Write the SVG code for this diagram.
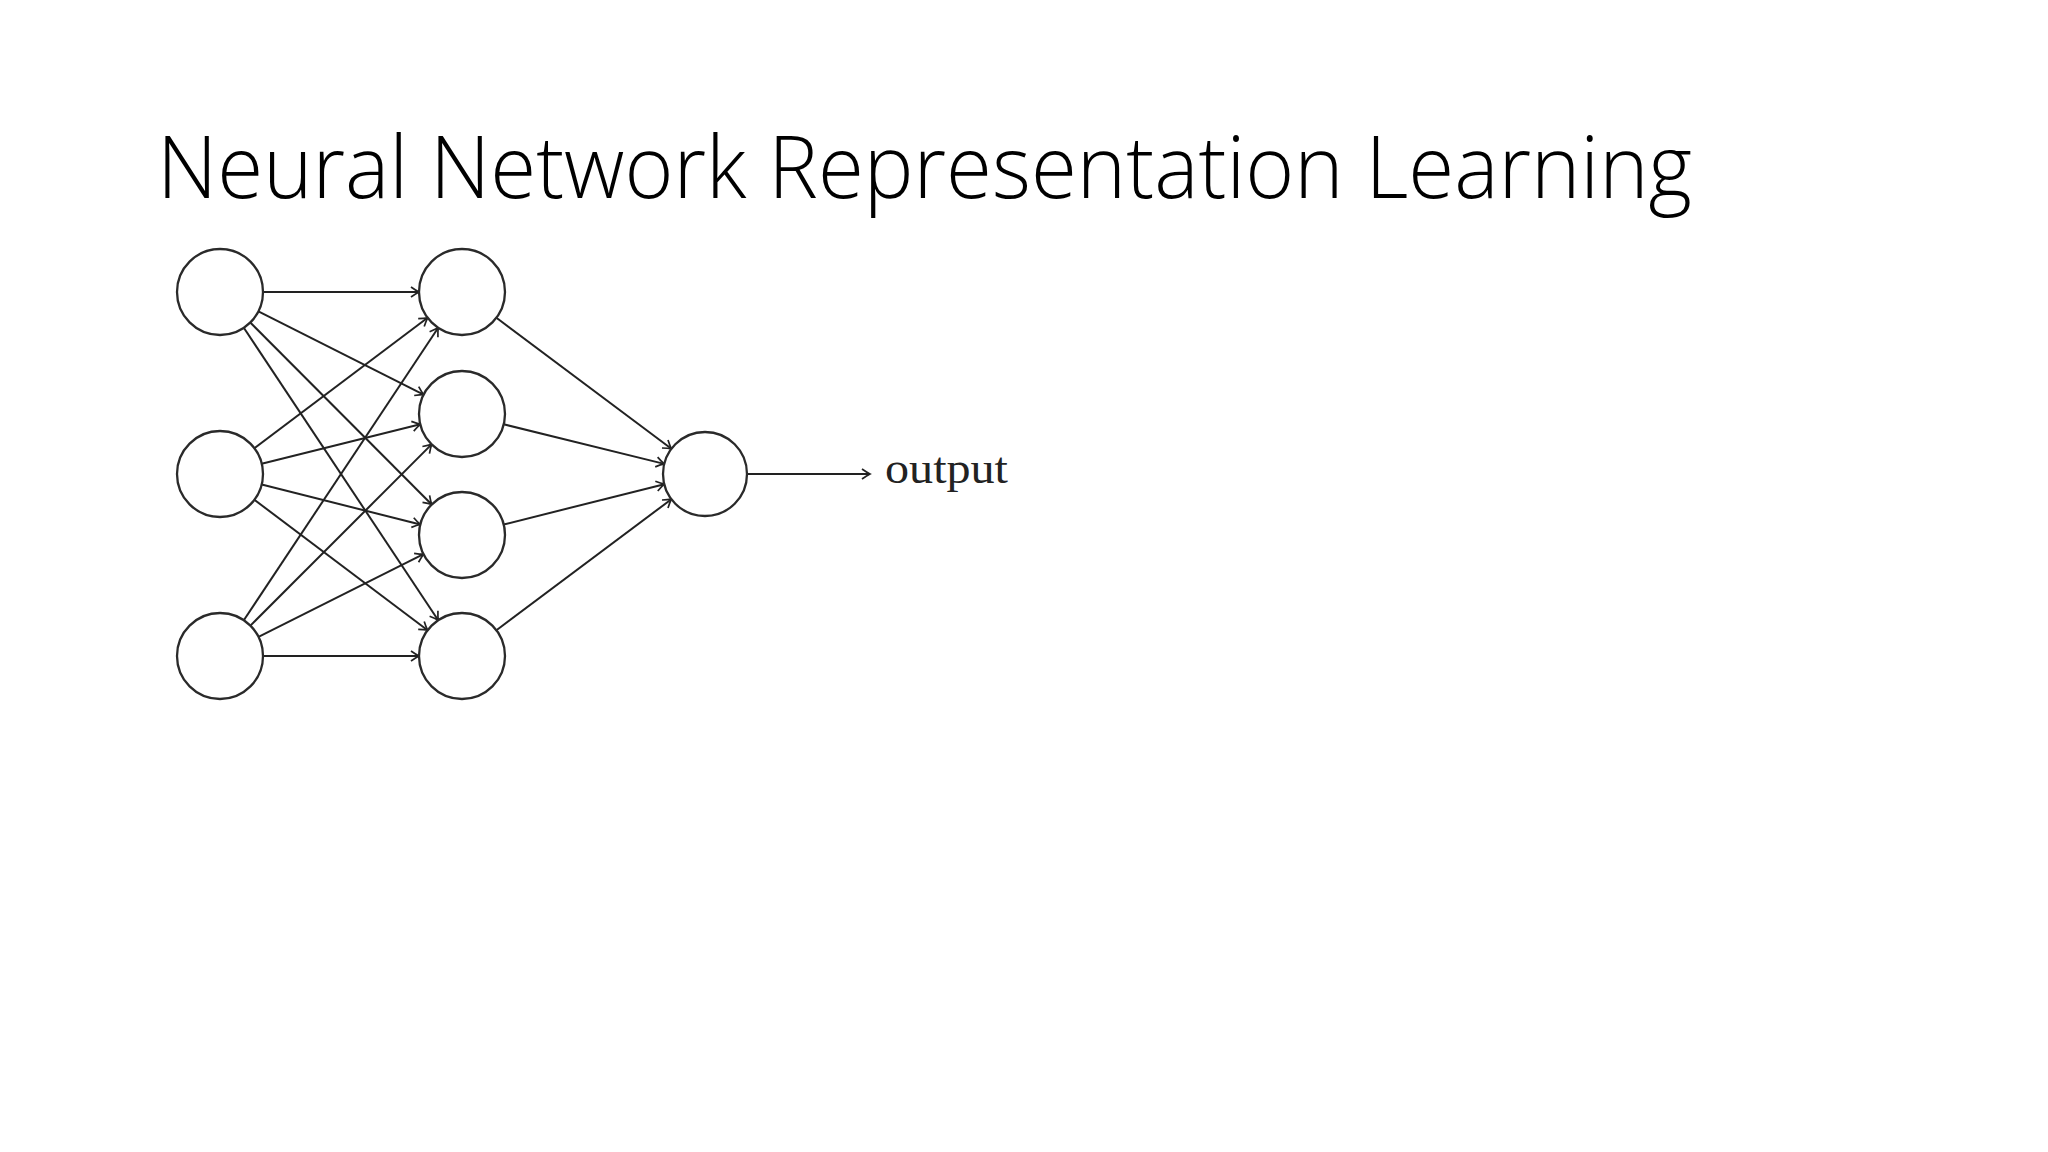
<svg xmlns="http://www.w3.org/2000/svg" width="2048" height="1152" viewBox="0 0 2048 1152">
<style>
.node{fill:#fff;stroke:#2a2a2a;stroke-width:2.3}
.edge{fill:none;stroke:#222;stroke-width:2;marker-end:url(#arr)}
.title{font-family:"Open Sans","Liberation Sans",sans-serif;font-weight:300;font-size:86px;fill:#000}
.lbl{font-family:"Liberation Serif","DejaVu Serif",serif;font-size:44px;fill:#222}
</style>
<defs>
<marker id="arr" markerUnits="userSpaceOnUse" markerWidth="16" markerHeight="16" viewBox="-10 -8 12 16" refX="0" refY="0" orient="auto">
<path d="M-8,-5 Q-3,-1.5 0,0 Q-3,1.5 -8,5" fill="none" stroke="#222" stroke-width="1.7"/>
</marker>
</defs>
<rect width="2048" height="1152" fill="#fff"/>
<text class="title" x="157" y="198" textLength="1535" lengthAdjust="spacingAndGlyphs">Neural Network Representation Learning</text>
<g id="connectors">
<line class="edge" x1="263" y1="292" x2="419" y2="292"/>
<line class="edge" x1="258.4" y1="311.4" x2="423.6" y2="394.6"/>
<line class="edge" x1="250.3" y1="322.5" x2="431.7" y2="504.5"/>
<line class="edge" x1="243.8" y1="327.8" x2="438.2" y2="620.2"/>
<line class="edge" x1="254.4" y1="448.2" x2="427.6" y2="317.8"/>
<line class="edge" x1="261.7" y1="463.7" x2="420.3" y2="424.3"/>
<line class="edge" x1="261.7" y1="484.5" x2="420.3" y2="524.5"/>
<line class="edge" x1="254.4" y1="499.8" x2="427.6" y2="630.2"/>
<line class="edge" x1="243.8" y1="620.2" x2="438.2" y2="327.8"/>
<line class="edge" x1="250.4" y1="625.6" x2="431.6" y2="444.4"/>
<line class="edge" x1="258.5" y1="636.8" x2="423.5" y2="554.2"/>
<line class="edge" x1="263" y1="656" x2="419" y2="656"/>
<line class="edge" x1="496.4" y1="317.8" x2="671.4" y2="448.8"/>
<line class="edge" x1="503.7" y1="424.3" x2="664.2" y2="463.9"/>
<line class="edge" x1="503.7" y1="524.5" x2="664.3" y2="484.2"/>
<line class="edge" x1="496.4" y1="630.2" x2="671.4" y2="499.2"/>
<line class="edge" x1="747" y1="474" x2="870" y2="474"/>
</g>
<g id="in1"><circle class="node" cx="220" cy="292" r="43"/></g>
<g id="in2"><circle class="node" cx="220" cy="474" r="43"/></g>
<g id="in3"><circle class="node" cx="220" cy="656" r="43"/></g>
<g id="h1"><circle class="node" cx="462" cy="292" r="43"/></g>
<g id="h2"><circle class="node" cx="462" cy="414" r="43"/></g>
<g id="h3"><circle class="node" cx="462" cy="535" r="43"/></g>
<g id="h4"><circle class="node" cx="462" cy="656" r="43"/></g>
<g id="out"><circle class="node" cx="705" cy="474" r="42"/></g>
<g id="outlabel"><text class="lbl" x="885" y="483" textLength="123" lengthAdjust="spacingAndGlyphs">output</text></g>
</svg>
